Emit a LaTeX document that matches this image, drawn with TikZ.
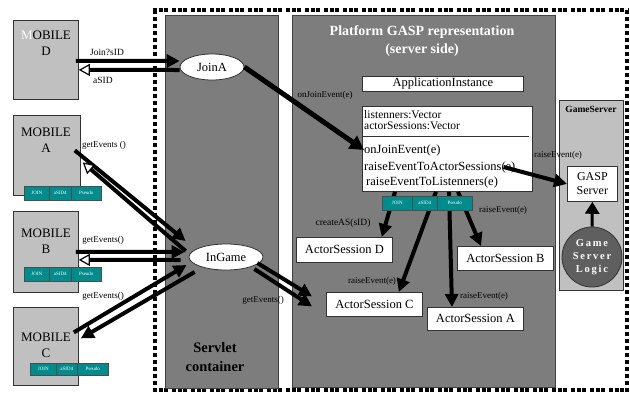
\documentclass[tikz,border=0pt]{standalone}
\usepackage{fontspec}
\setmainfont{Liberation Serif}
\usetikzlibrary{arrows.meta,shapes.geometric,calc}
\definecolor{contgray}{RGB}{125,125,125}
\definecolor{mobgray}{RGB}{192,192,192}
\definecolor{tealc}{RGB}{0,140,140}
\definecolor{logicgray}{RGB}{95,95,95}
\begin{document}
\begin{tikzpicture}[x=1pt,y=-1pt,
  cont/.style={draw=black!75, fill=contgray, line width=0.8pt, anchor=north west, inner sep=0pt},
  mobile/.style={draw=black!80, fill=mobgray, line width=0.8pt, anchor=north west, inner sep=0pt},
  mobtext/.style={align=center, inner sep=0pt, font=\fontsize{13}{16}\selectfont},
  whitebox/.style={draw=black!80, fill=white, line width=0.8pt, anchor=north west, inner sep=0pt, font=\fontsize{12.5}{14}\selectfont},
  cell/.style={draw=black!70, fill=tealc, text=white, line width=0.5pt, anchor=north west, inner sep=0pt, minimum height=14pt, font=\fontsize{5}{6}\selectfont},
  lbl/.style={font=\fontsize{9}{10}\selectfont, inner sep=0pt},
  clsline/.style={anchor=west, inner sep=0pt, font=\fontsize{12.5}{13}\selectfont},
  attrline/.style={anchor=west, inner sep=0pt, font=\fontsize{11.5}{12}\selectfont},
  cloud/.style={ellipse, draw=black!80, fill=white, line width=0.8pt, inner sep=0pt, font=\fontsize{12.5}{14}\selectfont},
  big/.style={line width=4pt, -{Triangle[length=13pt,width=13pt]}},
  bigopen/.style={line width=4pt, -{Triangle[length=11pt,width=12pt,fill=white,line width=1.2pt]}},
  border/.style={line width=4pt}
]
\useasboundingbox (0,0) rectangle (630,392);

% dashed outer border
\draw[border, dash pattern=on 4pt off 1.5pt on 4pt off 1.5pt on 4pt off 4pt] (153,10) -- (629,10);
\draw[border, dash pattern=on 4pt off 1.5pt on 4pt off 1.5pt on 4pt off 4pt] (153,390) -- (629,390);
\draw[border, dash pattern=on 4pt off 3pt] (155,10) -- (155,392);
\draw[border, dash pattern=on 4pt off 3pt] (627,10) -- (627,392);

% containers
\node[cont, minimum width=113pt, minimum height=373pt] (servlet) at (165,15) {};
\node[cont, minimum width=263pt, minimum height=372pt] (platform) at (292,15) {};
\node[text=white, align=center, inner sep=0pt, font=\bfseries\fontsize{14}{18}\selectfont] (ptitle) at (422,41) {Platform GASP representation\\(server side)};
\node[align=center, inner sep=0pt, font=\bfseries\fontsize{14.5}{19}\selectfont] (stitle) at (215,357) {Servlet\\container};

% game server
\node[draw=black!80, fill=mobgray, line width=0.8pt, anchor=north west, inner sep=0pt, minimum width=64pt, minimum height=190pt] (gs) at (559,100) {};
\node[inner sep=0pt, font=\bfseries\fontsize{9.5}{11}\selectfont] (gstitle) at (591,109) {GameServer};
\node[whitebox, minimum width=50pt, minimum height=35pt, align=center, font=\fontsize{12}{14}\selectfont] (gasp) at (567,166) {GASP\\Server};
\node[circle, draw=black!80, fill=logicgray, line width=0.8pt, minimum size=60pt, inner sep=0pt, text=white, align=center, font=\bfseries\fontsize{10.5}{13}\selectfont] (logic) at (592,257) {G\,a\,m\,e\\S\,e\,r\,v\,e\,r\\L\,o\,g\,i\,c};
\draw[line width=3pt, -{Triangle[length=12pt,width=14pt]}] (logic.north) -- (gasp.south);

% mobiles
\node[mobile, minimum width=65pt, minimum height=79pt] (mobD) at (13,20) {};
\node[mobtext] (mobDt) at (46,43) {{\color{white}M}OBILE\\D};
\node[mobile, minimum width=67pt, minimum height=80pt] (mobA) at (13,115) {};
\node[mobtext] (mobAt) at (46,140) {MOBILE\\A};
\node[mobile, minimum width=65pt, minimum height=81pt] (mobB) at (13,211) {};
\node[mobtext] (mobBt) at (46,241) {MOBILE\\B};
\node[mobile, minimum width=65pt, minimum height=78pt] (mobC) at (13,307) {};
\node[mobtext] (mobCt) at (46,345) {MOBILE\\C};

% mobile tables
\node[cell, minimum width=25pt] (ta1) at (24,186) {JOIN};
\node[cell, minimum width=22pt] (ta2) at (49,186) {aSID4};
\node[cell, minimum width=30pt] (ta3) at (71,186) {Pseudo};
\node[cell, minimum width=25pt] (tb1) at (24,267) {JOIN};
\node[cell, minimum width=22pt] (tb2) at (49,267) {aSID4};
\node[cell, minimum width=30pt] (tb3) at (71,267) {Pseudo};
\node[cell, minimum width=26pt, minimum height=12pt] (tc1) at (30,363) {JOIN};
\node[cell, minimum width=21pt, minimum height=12pt] (tc2) at (56,363) {aSID4};
\node[cell, minimum width=31pt, minimum height=12pt] (tc3) at (77,363) {Pseudo};

% servlet ellipses
\node[cloud, minimum width=64pt, minimum height=26pt] (joinA) at (212,67) {JoinA};
\node[cloud, minimum width=74pt, minimum height=26pt] (inGame) at (226,257) {InGame};

% application instance and class box
\node[whitebox, minimum width=161pt, minimum height=15pt] (appi) at (362,76) {ApplicationInstance};
\node[whitebox, minimum width=170pt, minimum height=85pt] (cls) at (362,106) {};
\node[attrline] (l1) at (364,114.5) {listenners:Vector};
\node[attrline] (l2) at (364,125.5) {actorSessions:Vector};
\draw[line width=0.8pt, black!80] (362,136) -- (529,136);
\node[clsline] (m1) at (364,150) {onJoinEvent(e)};
\node[clsline] (m2) at (364,167) {raiseEventToActorSessions(e)};
\node[clsline] (m3) at (366,182) {raiseEventToListenners(e)};

% actor sessions
\node[whitebox, minimum width=96pt, minimum height=25pt] (asD) at (296,237) {ActorSession D};
\node[whitebox, minimum width=96pt, minimum height=24pt] (asB) at (457,246) {ActorSession B};
\node[whitebox, minimum width=96pt, minimum height=24pt] (asC) at (326,292) {ActorSession C};
\node[whitebox, minimum width=96pt, minimum height=23pt] (asA) at (427,307) {ActorSession A};

% arrows from class box to actor sessions
\draw[big] ($(cls.south west)+(33,0)$) -- ($(asD.north east)+(-11,0)$);
\draw[big] ($(cls.south west)+(74,0)$) -- ($(asC.north east)+(-24,0)$);
\draw[big] ($(cls.south west)+(87,0)$) -- ($(asA.north west)+(25,0)$);
\draw[big] ($(cls.south west)+(96,0)$) -- ($(asB.north west)+(24,0)$);

% class table (over the arrows)
\node[cell, minimum width=30pt] (tp1) at (382,196) {JOIN};
\node[cell, minimum width=25pt] (tp2) at (412,196) {aSID4};
\node[cell, minimum width=35pt] (tp3) at (437,196) {Pseudo};

% labels near actor sessions
\node[lbl, font=\fontsize{9.5}{10}\selectfont] (lcreate) at (343,223) {createAS(sID)};
\node[lbl] (lrC) at (372,281) {raiseEvent(e)};
\node[lbl] (lrA) at (484,296) {raiseEvent(e)};
\node[lbl] (lrB) at (503,210) {raiseEvent(e)};

% class -> GASP server
\draw[big] ($(m2.east)+(-12,0)$) -- (gasp.west);
\node[lbl] (lrG) at (558,155) {raiseEvent(e)};

% JoinA -> class box
\draw[line width=5pt, -{Triangle[length=14pt,width=15pt]}] (joinA.east) -- (m1.west);
\node[lbl] (lonj) at (325,95) {onJoinEvent(e)};

% Mobile D <-> JoinA
\draw[big] ($(mobD.east)+(-3,1)$) -- ($(joinA.west)+(0,-6)$);
\draw[bigopen] ($(joinA.west)+(0,3)$) -- ($(mobD.east)+(0,10)$);
\node[lbl, font=\fontsize{9.5}{10}\selectfont] (ljoin) at (107,52) {Join?sID};
\node[lbl, font=\fontsize{9.5}{10}\selectfont] (lasid) at (103,80) {aSID};

% Mobile A <-> InGame
\draw[big] ($(mobA.east)+(-6,-5)$) -- ($(inGame.west)+(-3,-16)$);
\draw[bigopen] ($(inGame.west)+(-3,-6)$) -- ($(mobA.east)+(2,7)$);
\node[lbl] (lgA) at (104,145) {getEvents ()};

% Mobile B <-> InGame
\draw[big] ($(mobB.east)+(-3,0)$) -- ($(inGame.west)+(-4,-5)$);
\draw[bigopen] ($(inGame.west)+(-8,3)$) -- ($(mobB.east)+(0,8)$);
\node[lbl] (lgB) at (103,240) {getEvents()};

% Mobile C <-> InGame
\draw[big] ($(mobC.east)+(-5,-14)$) -- ($(inGame.west)+(-2,8)$);
\draw[big] ($(inGame.west)+(6,15)$) -- ($(mobC.east)+(2,-8)$);
\node[lbl] (lgC) at (103,296) {getEvents()};

% InGame -> ActorSession C
\draw[big] ($(inGame.east)+(-6,6)$) -- ($(asC.west)+(-14,-8)$);
\draw[big] ($(inGame.east)+(-9,12)$) -- ($(asC.west)+(-14,2)$);
\node[lbl] (lgI) at (263,300) {getEvents()};

\end{tikzpicture}
\end{document}
